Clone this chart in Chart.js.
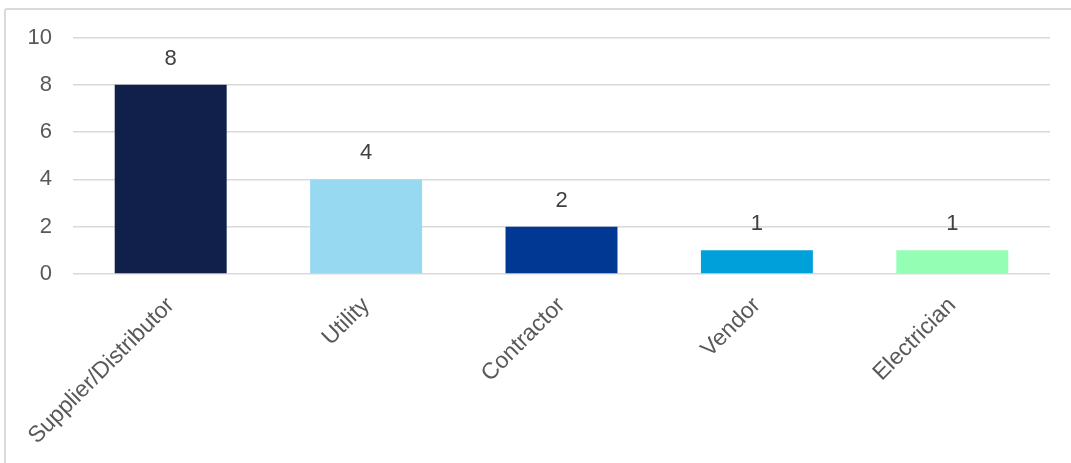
<!DOCTYPE html>
<html>
<head>
<meta charset="utf-8">
<script src="https://cdn.jsdelivr.net/npm/chart.js@4.4.1/dist/chart.umd.min.js"></script>
<style>
  html, body { margin: 0; padding: 0; background: #fff; }
  #wrap { position: relative; width: 1071px; height: 463px; overflow: hidden; }
  #frame { position: absolute; left: 4px; top: 8px; width: 1100px; height: 500px; border: 2px solid #d9d9d9; border-radius: 3px; }
  #chart { position: absolute; left: 0; top: 0; }
</style>
</head>
<body>
<div id="wrap">
  <div id="frame"></div>
  <canvas id="chart" width="1071" height="463"></canvas>
</div>
<script>
const categories = ['Supplier/Distributor', 'Utility', 'Contractor', 'Vendor', 'Electrician'];
const counts = [8, 4, 2, 1, 1];
const barColors = ['#10204b', '#97d9f0', '#003893', '#00a0db', '#94ffb4'];
const yTicks = [0, 2, 4, 6, 8, 10];

// draw the value above each bar
const valueLabels = {
  id: 'valueLabels',
  afterDatasetsDraw(chart) {
    const ctx = chart.ctx;
    ctx.save();
    ctx.font = '22px "Liberation Sans", Arial, sans-serif';
    ctx.fillStyle = '#404040';
    ctx.textAlign = 'center';
    ctx.textBaseline = 'bottom';
    chart.data.datasets.forEach((dataset, i) => {
      const meta = chart.getDatasetMeta(i);
      meta.data.forEach((bar, index) => {
        ctx.fillText(dataset.data[index], bar.x, bar.y - 15);
      });
    });
    ctx.restore();
  }
};

new Chart(document.getElementById('chart'), {
  type: 'bar',
  data: {
    labels: categories,
    datasets: [{
      data: counts,
      backgroundColor: barColors,
      borderWidth: 0,
      categoryPercentage: 1,
      barPercentage: 0.573
    }]
  },
  options: {
    responsive: false,
    animation: false,
    layout: { padding: { left: 0, right: 21, top: 37.5, bottom: 0 } },
    plugins: {
      legend: { display: false },
      tooltip: { enabled: false }
    },
    scales: {
      y: {
        min: 0,
        max: 10,
        afterFit: (scale) => { scale.width = 73; },
        afterBuildTicks: (scale) => { scale.ticks = yTicks.map(v => ({ value: v })); },
        border: { display: false },
        grid: { color: '#d9d9d9', lineWidth: 1.5, drawTicks: false },
        ticks: {
          padding: 21,
          color: '#595959',
          font: { family: '"Liberation Sans", Arial, sans-serif', size: 22 }
        }
      },
      x: {
        afterFit: (scale) => { scale.height = 189; },
        border: { display: false },
        grid: { display: false, drawTicks: false },
        ticks: {
          minRotation: 45,
          maxRotation: 45,
          padding: 18,
          color: '#595959',
          font: { family: '"Liberation Sans", Arial, sans-serif', size: 23 }
        }
      }
    }
  },
  plugins: [valueLabels]
});
</script>
</body>
</html>
